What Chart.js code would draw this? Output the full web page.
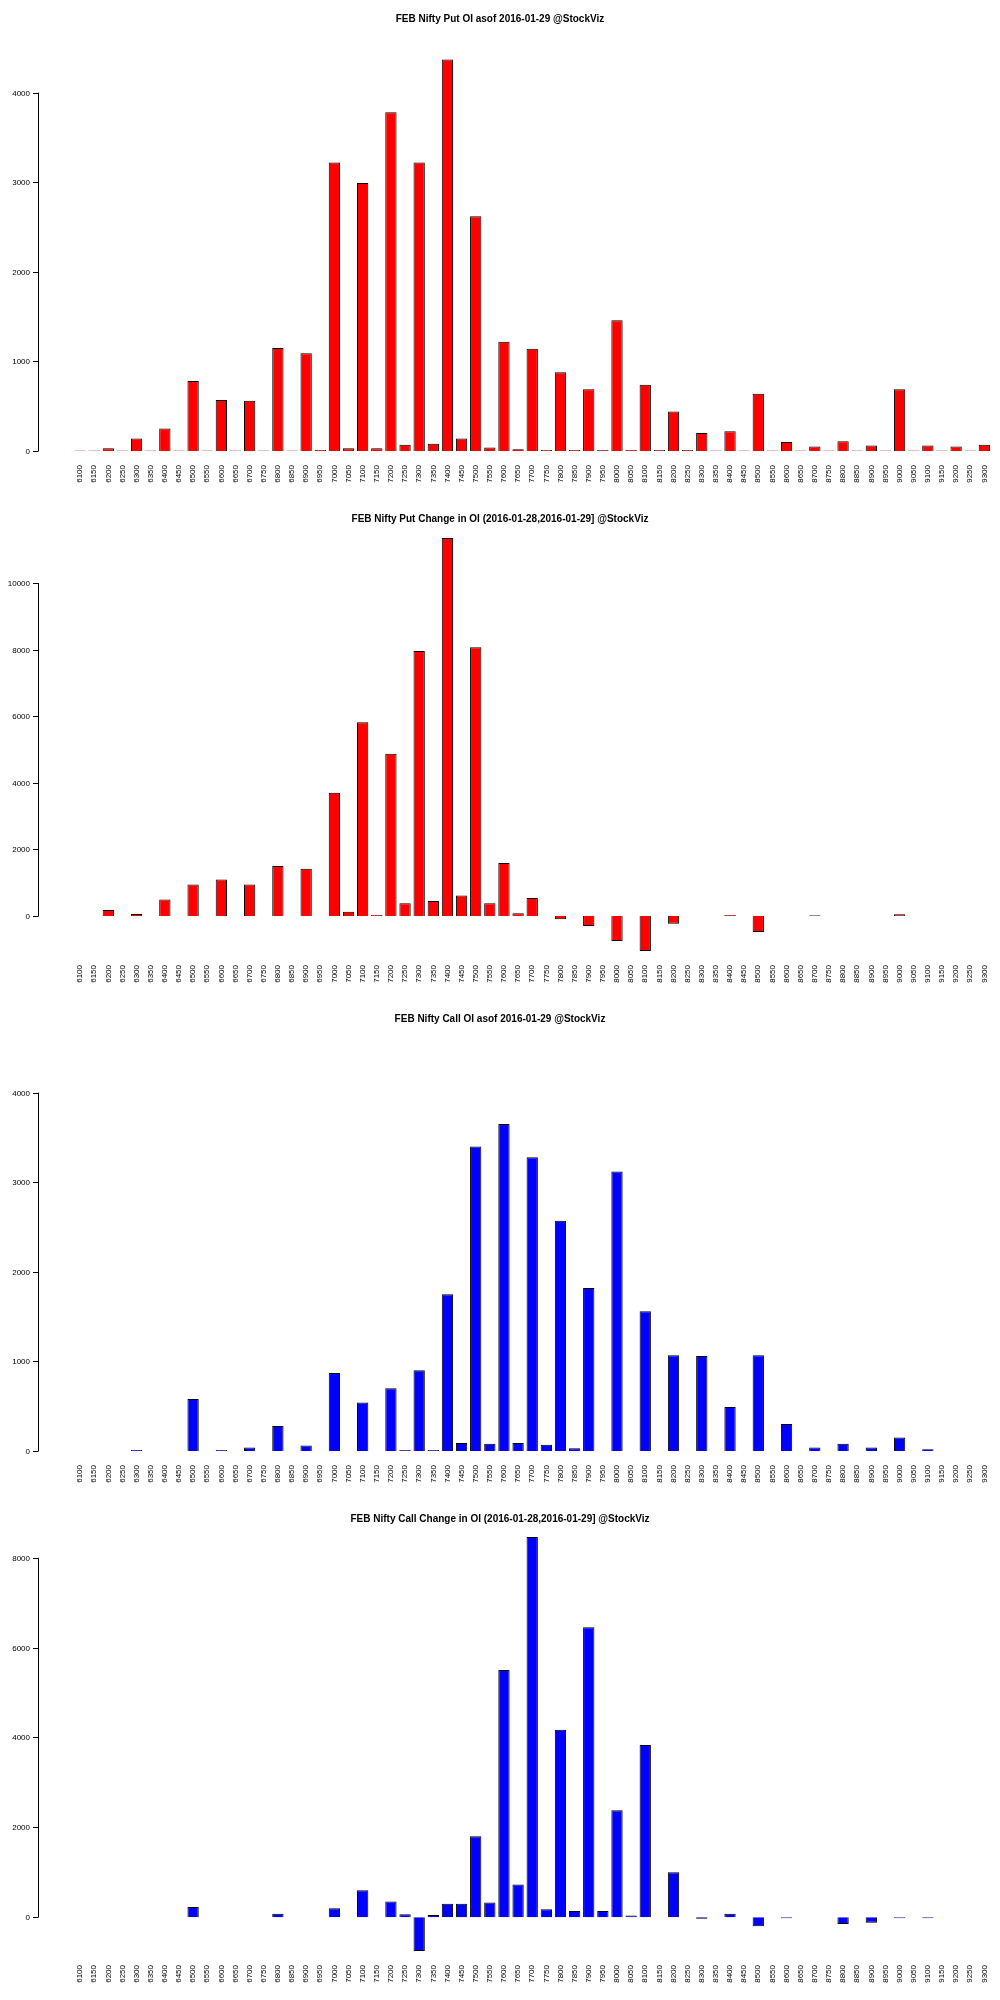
<!DOCTYPE html>
<html>
<head>
<meta charset="utf-8">
<script src="https://cdn.jsdelivr.net/npm/chart.js@4"></script>
<style>
  body { margin: 0; background: #fff; }
  .box { width: 1000px; height: 500px; position: relative; }
</style>
</head>
<body>
<div class="box"><canvas id="c1"></canvas></div>
<div class="box"><canvas id="c2"></canvas></div>
<div class="box"><canvas id="c3"></canvas></div>
<div class="box"><canvas id="c4"></canvas></div>
<script>
// strikes 6100..9300, step 50
const strikes = ['6100','6150','6200','6250','6300','6350','6400','6450','6500','6550','6600','6650','6700','6750','6800','6850','6900','6950','7000','7050','7100','7150','7200','7250','7300','7350','7400','7450','7500','7550','7600','7650','7700','7750','7800','7850','7900','7950','8000','8050','8100','8150','8200','8250','8300','8350','8400','8450','8500','8550','8600','8650','8700','8750','8800','8850','8900','8950','9000','9050','9100','9150','9200','9250','9300'];

const putOI = [5,5,30,5,140,5,250,5,780,5,570,5,560,5,1150,5,1090,10,3220,30,2990,30,3780,70,3220,80,4370,140,2620,40,1220,20,1140,10,880,10,690,10,1460,10,740,10,440,10,200,5,220,5,640,5,100,5,50,5,110,5,60,5,690,5,60,5,50,5,70];
const putChg = [0,0,180,0,60,0,500,0,950,0,1100,0,950,0,1500,0,1420,0,3700,130,5820,30,4870,380,7960,450,11350,620,8070,380,1590,80,540,0,-100,0,-300,0,-750,0,-1050,0,-230,0,0,0,30,0,-480,0,0,0,20,0,0,0,0,0,50,0,0,0,0,0,0];
const callOI = [0,0,0,0,10,0,0,0,580,0,10,0,40,0,280,0,60,0,870,0,540,0,700,10,900,10,1750,90,3400,80,3650,90,3280,70,2570,30,1820,0,3120,0,1560,0,1070,0,1060,0,490,0,1070,0,300,0,40,0,80,0,40,0,150,0,20,0,0,0,0];
const callChg = [0,0,0,0,0,0,0,0,230,0,0,0,0,0,80,0,0,0,200,0,600,0,350,70,-750,50,300,300,1800,330,5500,730,8460,180,4170,140,6450,140,2380,40,3830,0,1000,0,-30,0,80,0,-200,0,-20,0,0,0,-150,0,-120,0,-20,0,-20,0,0,0,0];

const titles = [
  'FEB Nifty Put OI asof 2016-01-29 @StockViz',
  'FEB Nifty Put Change in OI (2016-01-28,2016-01-29] @StockViz',
  'FEB Nifty Call OI asof 2016-01-29 @StockViz',
  'FEB Nifty Call Change in OI (2016-01-28,2016-01-29] @StockViz'
];

const rAxis = {
  id: 'rAxis',
  afterDraw(chart) {
    const o = chart.options.plugins.rAxis;
    const ctx = chart.ctx, y = chart.scales.y;
    ctx.save();
    ctx.font = 'bold 10px "Liberation Sans", Arial, sans-serif';
    ctx.fillStyle = '#000';
    ctx.textAlign = 'center';
    ctx.fillText(o.title, 500, 22);
    const x0 = 38;
    ctx.strokeStyle = '#000';
    ctx.lineWidth = 1;
    ctx.beginPath();
    ctx.moveTo(x0 + 0.5, y.getPixelForValue(0));
    ctx.lineTo(x0 + 0.5, y.getPixelForValue(o.ticks[o.ticks.length - 1]));
    ctx.stroke();
    ctx.font = '8px "Liberation Sans", Arial, sans-serif';
    ctx.textAlign = 'right';
    ctx.textBaseline = 'middle';
    o.ticks.forEach(t => {
      const py = Math.round(y.getPixelForValue(t)) + 0.5;
      ctx.beginPath();
      ctx.moveTo(x0 - 5, py);
      ctx.lineTo(x0 + 0.5, py);
      ctx.stroke();
      ctx.fillText(String(t), x0 - 8, py);
    });
    ctx.restore();
  }
};

function draw(id, title, data, color, min, max, ticks, top) {
  new Chart(document.getElementById(id), {
    type: 'bar',
    data: {
      labels: strikes,
      datasets: [{ data, backgroundColor: color, borderColor: '#000', borderWidth: 1,
        barPercentage: 0.8, categoryPercentage: 1 }]
    },
    options: {
      responsive: true, maintainAspectRatio: false, animation: false,
      layout: { padding: { top: top, left: 0, right: 4, bottom: 0 } },
      plugins: { legend: { display: false }, tooltip: { enabled: false },
        rAxis: { title, ticks } },
      scales: {
        x: {
          grid: { display: false }, border: { display: false },
          ticks: { color: '#000', font: { size: 8, family: '"Liberation Sans", Arial' },
            minRotation: 90, maxRotation: 90, autoSkip: false, padding: 6 },
          afterFit: s => { s.height = 49; }
        },
        y: {
          min, max,
          grid: { display: false }, border: { display: false },
          ticks: { display: false },
          afterFit: s => { s.width = 73; }
        }
      }
    },
    plugins: [rAxis]
  });
}

draw('c1', titles[0], putOI, '#ff0000', 0, 4420, [0,1000,2000,3000,4000], 55);
draw('c2', titles[1], putChg, '#ff0000', -1050, 11350, [0,2000,4000,6000,8000,10000], 38);
draw('c3', titles[2], callOI, '#0000ff', 0, 4420, [0,1000,2000,3000,4000], 55);
draw('c4', titles[3], callChg, '#0000ff', -750, 8460, [0,2000,4000,6000,8000], 37);
</script>
</body>
</html>
